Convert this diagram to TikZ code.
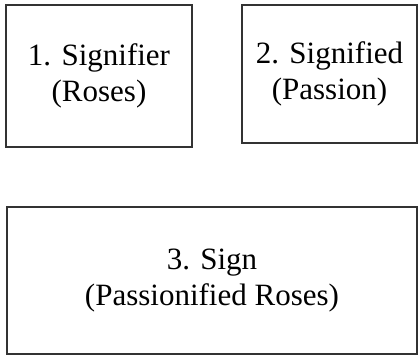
\documentclass[tikz,border=0pt]{standalone}
\usepackage{fontspec}
\setmainfont{Liberation Serif}
\begin{document}
\begin{tikzpicture}[x=1pt,y=-1pt,
  box/.style={draw=black!80, line width=1.6pt, inner sep=0pt, align=center,
    font=\fontsize{31}{36}\selectfont}]
\useasboundingbox (0,0) rectangle (419,355);
\node[box, minimum width=186pt, minimum height=142pt] (signifier) at (99,76) {1. Signifier\\(Roses)};
\node[box, minimum width=175pt, minimum height=138pt] (signified) at (329.5,74) {2. Signified\\(Passion)};
\node[box, minimum width=410pt, minimum height=147pt] (sign) at (212,280.5) {3. Sign\\(Passionified Roses)};
\end{tikzpicture}
\end{document}
